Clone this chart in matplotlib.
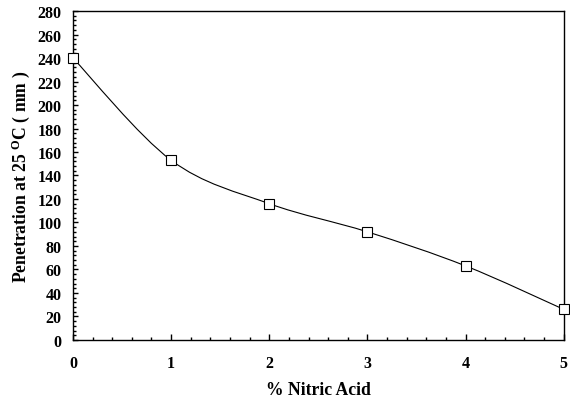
import numpy as np
import matplotlib
matplotlib.use("Agg")
import matplotlib.pyplot as plt
from matplotlib.path import Path
from matplotlib.patches import PathPatch
from matplotlib.ticker import MultipleLocator

# data
acid_pct = [0, 1, 2, 3, 4, 5]
penetration = [240, 153, 116, 92, 63, 26]
x_ticks = [0, 1, 2, 3, 4, 5]
y_ticks = list(range(0, 281, 20))

plt.rcParams['font.family'] = ['Liberation Serif', 'DejaVu Serif']
plt.rcParams['font.weight'] = 'bold'
plt.rcParams['mathtext.fontset'] = 'custom'
plt.rcParams['mathtext.rm'] = 'Liberation Serif:bold'
plt.rcParams['mathtext.bf'] = 'Liberation Serif:bold'
plt.rcParams['mathtext.it'] = 'Liberation Serif:bold'


def smooth_path(xs, ys, tension=1 / 6):
    # Excel-style smoothed line: cubic Bezier segments through every point
    xs = np.asarray(xs, float)
    ys = np.asarray(ys, float)
    n = len(xs)
    verts = [(xs[0], ys[0])]
    codes = [Path.MOVETO]
    for i in range(n - 1):
        p0 = i - 1 if i > 0 else i
        p3 = i + 2 if i + 2 < n else i + 1
        c1 = (xs[i] + (xs[i + 1] - xs[p0]) * tension,
              ys[i] + (ys[i + 1] - ys[p0]) * tension)
        c2 = (xs[i + 1] - (xs[p3] - xs[i]) * tension,
              ys[i + 1] - (ys[p3] - ys[i]) * tension)
        verts += [c1, c2, (xs[i + 1], ys[i + 1])]
        codes += [Path.CURVE4] * 3
    return Path(verts, codes)


fig = plt.figure(figsize=(5.7, 4.02), dpi=100)
ax = fig.add_axes([0.128, 0.152, 0.861, 0.818])

ax.add_patch(PathPatch(smooth_path(acid_pct, penetration), facecolor='none',
                       edgecolor='black', linewidth=0.8, zorder=2))
ax.plot(acid_pct, penetration, linestyle='none', marker='s', markersize=7.5,
        markerfacecolor='white', markeredgecolor='black', markeredgewidth=0.8,
        zorder=3, clip_on=False)

ax.set_xlim(0, 5)
ax.set_ylim(0, 280)
ax.set_xticks(x_ticks)
ax.set_yticks(y_ticks)
ax.xaxis.set_minor_locator(MultipleLocator(0.2))
ax.yaxis.set_minor_locator(MultipleLocator(4))

ax.tick_params(which='both', direction='in', top=False, right=False, width=1.0)
ax.tick_params(axis='x', which='major', length=4, pad=11, labelsize=11.5)
ax.tick_params(axis='x', which='minor', length=2.5)
ax.tick_params(axis='y', which='major', length=3.5, pad=8, labelsize=11.5)
ax.tick_params(axis='y', which='minor', length=2.5)

for s in ax.spines.values():
    s.set_linewidth(1.0)

ax.set_xlabel('% Nitric Acid', fontsize=12.7, fontweight='bold', labelpad=7)
ax.set_ylabel(r'Penetration at 25 $^{\mathrm{O}}$C ( mm )', fontsize=12.7,
              fontweight='bold', labelpad=4)

fig.savefig('out.png', dpi=100)
